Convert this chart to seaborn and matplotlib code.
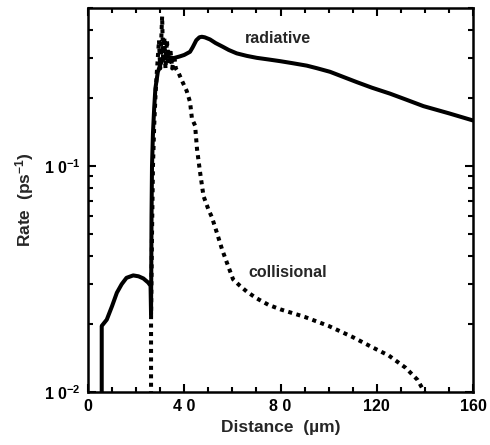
import numpy as np
import pandas as pd
import matplotlib
matplotlib.use("Agg")
import matplotlib.pyplot as plt
import seaborn as sns
from matplotlib.ticker import FixedLocator, NullFormatter, LogLocator

# ---- data ----
rad_x = [5.7, 5.7, 7.8, 10, 12, 14, 16, 18.8, 21, 23, 25, 26.0, 26.2, 26.4, 26.6, 27, 27.5,
         28, 29, 30, 31, 33, 35.5, 38, 40, 42.4, 43.5, 45, 46.3, 47.3, 48.5, 50.7, 53, 56,
         58.5, 61.8, 66, 70.1, 75, 79.8, 85, 90.9, 95, 100.6, 106, 111.7, 118, 125.5,
         132, 139.4, 150, 160]
rad_y = [0.005, 0.0196, 0.0209, 0.024, 0.0275, 0.030, 0.032, 0.0328, 0.0325, 0.0318, 0.0305,
         0.0295, 0.022, 0.06, 0.1, 0.14, 0.18, 0.22, 0.26, 0.28, 0.295, 0.305, 0.30, 0.305,
         0.31, 0.32, 0.335, 0.36, 0.371, 0.373, 0.371, 0.363, 0.35, 0.337, 0.326, 0.315,
         0.307, 0.301, 0.296, 0.291, 0.285, 0.278, 0.271, 0.261, 0.248, 0.235, 0.222, 0.209,
         0.197, 0.184, 0.171, 0.159]

col_x = [26.2, 26.2, 26.6, 27, 27.5, 28, 28.5, 29, 29.5, 30, 30.8, 31.2, 31.7, 32.2, 32.8,
         33.5, 34.2, 35, 35.8, 36.5, 37.5, 39, 41, 42.4, 43.2, 44.5, 45.3, 46.5, 48, 50,
         51.5, 53.5, 55.7, 57.7, 60.3, 63, 66, 70, 75, 80, 90, 100, 110, 118, 125, 132,
         137, 140]
col_y = [0.005, 0.021, 0.05, 0.1, 0.15, 0.2, 0.25, 0.3, 0.36, 0.27, 0.459, 0.3, 0.37, 0.27,
         0.36, 0.28, 0.33, 0.27, 0.31, 0.27, 0.26, 0.239, 0.215, 0.192, 0.162, 0.151, 0.119,
         0.095, 0.0736, 0.0644, 0.0593, 0.0509, 0.0428, 0.0374, 0.0315, 0.0296, 0.0278,
         0.026, 0.0243, 0.0232, 0.0215, 0.0196, 0.0175, 0.0158, 0.0145, 0.0128, 0.0113,
         0.0099]

x_ticks = [0, 40, 80, 120, 160]
x_tick_labels = ["0", "4 0", "8 0", "120", "160"]
y_ticks = [0.01, 0.1]
y_tick_labels = ["1 0$^{-2}$", "1 0$^{-1}$"]

# ---- styling ----
sns.set_theme(style="ticks")
plt.rcParams["font.family"] = ["Liberation Sans", "DejaVu Sans"]
plt.rcParams["font.weight"] = "bold"
plt.rcParams["mathtext.fontset"] = "custom"
plt.rcParams["mathtext.rm"] = "Liberation Sans:bold"
plt.rcParams["mathtext.default"] = "rm"

fig = plt.figure(figsize=(4.9, 4.45), dpi=100)
ax = fig.add_axes([0.1796, 0.1191, 0.7857, 0.8629])

rad = pd.DataFrame({"x": rad_x, "y": rad_y})
col = pd.DataFrame({"x": col_x, "y": col_y})

sns.lineplot(data=rad, x="x", y="y", ax=ax, estimator=None, sort=False,
             color="black", linewidth=2.9)
sns.lineplot(data=col, x="x", y="y", ax=ax, estimator=None, sort=False,
             color="black", linewidth=2.9, linestyle=(0, (1, 1.1)))

ax.set_yscale("log")
ax.set_xlim(0, 160)
ax.set_ylim(0.01, 0.5)

ax.xaxis.set_major_locator(FixedLocator(x_ticks))
ax.set_xticklabels(x_tick_labels)
ax.xaxis.set_minor_locator(FixedLocator(np.arange(0, 161, 10)))
ax.yaxis.set_major_locator(FixedLocator(y_ticks))
ax.set_yticklabels(y_tick_labels)
ax.yaxis.set_minor_locator(LogLocator(base=10, subs=np.arange(2, 10)))
ax.yaxis.set_minor_formatter(NullFormatter())

ax.tick_params(which="both", direction="in", top=True, right=True, width=1.5,
               colors="black", labelsize=11.5)
ax.tick_params(which="major", length=6, pad=5)
ax.tick_params(which="minor", length=3.5)
for s in ax.spines.values():
    s.set_linewidth(1.8)
    s.set_color("black")

ax.set_xlabel("Distance  (µm)", fontsize=12.5, fontweight="bold", labelpad=4)
ax.set_ylabel("Rate  (ps$^{-1}$)", fontsize=12.5, fontweight="bold", labelpad=6)

ax.text(65.3, 0.366, "radiative", fontsize=11.5, fontweight="bold", va="center", ha="left")
ax.text(66.5, 0.0338, "collisional", fontsize=11.5, fontweight="bold", va="center", ha="left")

fig.savefig("out.png", dpi=100, facecolor="white")
